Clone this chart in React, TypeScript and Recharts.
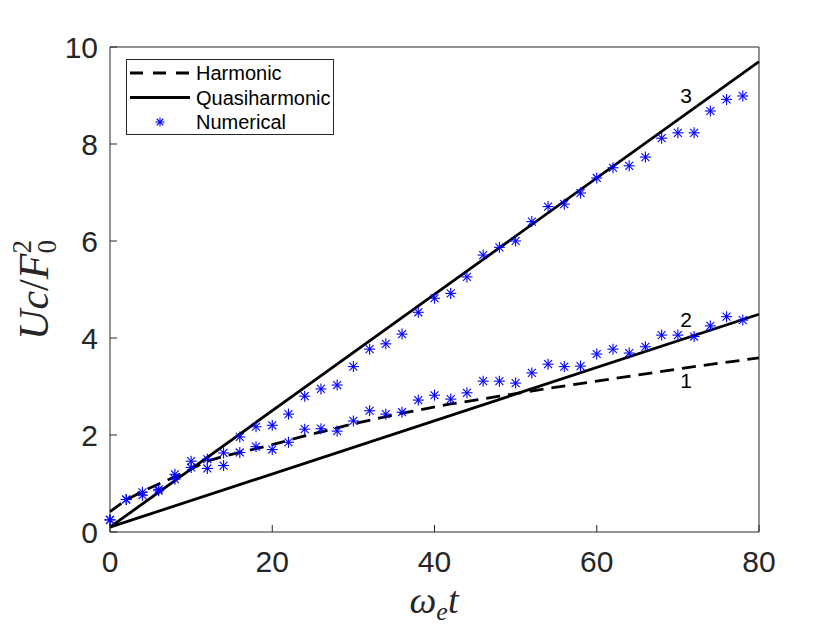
import React from 'react';
import {
  ComposedChart,
  Line,
  Scatter,
  XAxis,
  YAxis,
  Legend,
  ReferenceDot,
} from 'recharts';

// ---------- data ----------
const numX = [0, 2, 4, 6, 8, 10, 12, 14, 16, 18, 20, 22, 24, 26, 28, 30, 32, 34, 36, 38,
  40, 42, 44, 46, 48, 50, 52, 54, 56, 58, 60, 62, 64, 66, 68, 70, 72, 74, 76, 78];
const numUpper = [0.25, 0.67, 0.82, 0.88, 1.19, 1.46, 1.5, 1.63, 1.96, 2.17, 2.2, 2.43, 2.8, 2.95, 3.03, 3.41, 3.77, 3.88, 4.08, 4.53,
  4.82, 4.92, 5.26, 5.71, 5.87, 6.0, 6.4, 6.71, 6.76, 6.99, 7.3, 7.51, 7.55, 7.73, 8.12, 8.23, 8.23, 8.68, 8.92, 8.99];
const numLower = [0.25, 0.67, 0.76, 0.85, 1.09, 1.33, 1.31, 1.37, 1.64, 1.76, 1.7, 1.85, 2.12, 2.13, 2.08, 2.29, 2.5, 2.43, 2.47, 2.72,
  2.82, 2.74, 2.87, 3.11, 3.11, 3.07, 3.28, 3.46, 3.41, 3.42, 3.67, 3.77, 3.69, 3.82, 4.06, 4.06, 4.03, 4.25, 4.44, 4.37];

const harmonicX = [0, 2, 4, 6, 8, 10, 12, 14, 16, 20, 24, 30, 36, 42, 48, 54, 60, 66, 72, 80];
const harmonicY = [0.42, 0.66, 0.84, 0.99, 1.14, 1.3, 1.46, 1.56, 1.64, 1.8, 1.98, 2.23, 2.45, 2.64, 2.8, 2.96, 3.11, 3.26, 3.41, 3.59];

const quasiX = [0, 80];
const quasi3Y = [0.1, 9.7];
const quasi2Y = [0.1, 4.49];

const xTicks = [0, 20, 40, 60, 80];
const yTicks = [0, 2, 4, 6, 8, 10];

const curveLabels = [
  { text: '3', x: 71, y: 8.85 },
  { text: '2', x: 71, y: 4.23 },
  { text: '1', x: 71, y: 2.97 },
];

const legendItems = [
  { name: 'Harmonic', kind: 'dash' },
  { name: 'Quasiharmonic', kind: 'solid' },
  { name: 'Numerical', kind: 'star' },
];

const zip = (xs: number[], ys: number[]) => xs.map((x, i) => ({ x, y: ys[i] }));
const upperData = zip(numX, numUpper);
const lowerData = zip(numX, numLower);
const harmonicData = zip(harmonicX, harmonicY);
const quasi3Data = zip(quasiX, quasi3Y);
const quasi2Data = zip(quasiX, quasi2Y);

// ---------- style ----------
const AXIS = '#262626';
const TICK_FONT = '"Liberation Sans", Arial, sans-serif';
const MATH_FONT = '"Liberation Serif", "Times New Roman", serif';
const BLUE = '#0000ff';
const LW = 2.8;

const Star = ({ cx, cy, size = 5.5 }: { cx: number; cy: number; size?: number }) => {
  const d = size * 0.72;
  return (
    <g stroke={BLUE} strokeWidth={1.1}>
      <line x1={cx - size} y1={cy} x2={cx + size} y2={cy} />
      <line x1={cx} y1={cy - size} x2={cx} y2={cy + size} />
      <line x1={cx - d} y1={cy - d} x2={cx + d} y2={cy + d} />
      <line x1={cx - d} y1={cy + d} x2={cx + d} y2={cy - d} />
    </g>
  );
};

const starShape = (props: any) => <Star cx={props.cx} cy={props.cy} />;

const LeftTick = (props: any) => {
  const { x, y, payload } = props;
  return (
    <g>
      <line x1={x} y1={y} x2={x + 7} y2={y} stroke={AXIS} strokeWidth={1} />
      <text x={x - 12} y={y} dy="0.36em" textAnchor="end" fontFamily={TICK_FONT} fontSize={30} fill={AXIS}>
        {payload.value}
      </text>
    </g>
  );
};

const BottomTick = (props: any) => {
  const { x, y, payload } = props;
  return (
    <g>
      <line x1={x} y1={y} x2={x} y2={y - 7} stroke={AXIS} strokeWidth={1} />
      <text x={x} y={y + 40} textAnchor="middle" fontFamily={TICK_FONT} fontSize={30} fill={AXIS}>
        {payload.value}
      </text>
    </g>
  );
};

const TopTick = (props: any) => {
  const { x, y } = props;
  return <line x1={x} y1={y} x2={x} y2={y + 7} stroke={AXIS} strokeWidth={1} />;
};

const RightTick = (props: any) => {
  const { x, y } = props;
  return <line x1={x} y1={y} x2={x - 7} y2={y} stroke={AXIS} strokeWidth={1} />;
};

const YLabel = () => (
  <text
    transform="translate(48,290) rotate(-90)"
    textAnchor="middle"
    fontFamily={MATH_FONT}
    fontSize={42}
    fill={AXIS}
  >
    <tspan fontStyle="italic">Uc</tspan>
    <tspan>/</tspan>
    <tspan fontStyle="italic">F</tspan>
    <tspan fontSize={27} dy={8}>0</tspan>
    <tspan fontSize={27} dy={-25} dx={-13.5}>2</tspan>
  </text>
);

const XLabel = () => (
  <text x={434} y={613} textAnchor="middle" fontFamily={MATH_FONT} fontSize={38} fill={AXIS}>
    <tspan fontStyle="italic">ω</tspan>
    <tspan fontStyle="italic" fontSize={26} dy={7}>e</tspan>
    <tspan fontStyle="italic" dy={-7}>t</tspan>
  </text>
);

const LegendBox = () => (
  <svg width={208} height={76} style={{ display: 'block' }}>
    <rect x={0.5} y={0.5} width={207} height={75} fill="#fff" stroke={AXIS} strokeWidth={1} />
    {legendItems.map((it, i) => {
      const cy = 14 + i * 24.5;
      return (
        <g key={it.name}>
          {it.kind === 'dash' && (
            <line x1={4} y1={cy} x2={64} y2={cy} stroke="#000" strokeWidth={LW} strokeDasharray="13 10" />
          )}
          {it.kind === 'solid' && <line x1={4} y1={cy} x2={64} y2={cy} stroke="#000" strokeWidth={LW} />}
          {it.kind === 'star' && <Star cx={34} cy={cy} size={4.5} />}
          <text x={70} y={cy} dy="0.36em" fontFamily={TICK_FONT} fontSize={20} fill="#000">
            {it.name}
          </text>
        </g>
      );
    })}
  </svg>
);

const labelShape = (text: string) => (props: any) => (
  <text x={props.cx} y={props.cy} textAnchor="middle" fontFamily={TICK_FONT} fontSize={21} fill="#000">
    {text}
  </text>
);

export default function App() {
  return (
    <div style={{ position: 'absolute', left: 0, top: 0, background: '#fff' }}>
      <ComposedChart width={840} height={630} margin={{ top: 46, right: 80, bottom: 0, left: 0 }}>
        <XAxis
          xAxisId={0}
          type="number"
          dataKey="x"
          domain={[0, 80]}
          ticks={xTicks}
          interval={0}
          height={98}
          tickSize={0}
          tickMargin={0}
          tickLine={false}
          axisLine={{ stroke: AXIS, strokeWidth: 1 }}
          tick={BottomTick}
          label={XLabel}
        />
        <XAxis
          xAxisId="top"
          orientation="top"
          type="number"
          dataKey="x"
          domain={[0, 80]}
          ticks={xTicks}
          interval={0}
          height={1}
          tickSize={0}
          tickMargin={0}
          tickLine={false}
          axisLine={{ stroke: AXIS, strokeWidth: 1 }}
          tick={TopTick}
        />
        <YAxis
          yAxisId={0}
          type="number"
          domain={[0, 10]}
          ticks={yTicks}
          interval={0}
          width={110}
          tickSize={0}
          tickMargin={0}
          tickLine={false}
          axisLine={{ stroke: AXIS, strokeWidth: 1 }}
          tick={LeftTick}
          label={YLabel}
        />
        <YAxis
          yAxisId="right"
          orientation="right"
          type="number"
          domain={[0, 10]}
          ticks={yTicks}
          interval={0}
          width={1}
          tickSize={0}
          tickMargin={0}
          tickLine={false}
          axisLine={{ stroke: AXIS, strokeWidth: 1 }}
          tick={RightTick}
        />
        <Line
          data={harmonicData}
          dataKey="y"
          type="linear"
          stroke="#000"
          strokeWidth={LW}
          strokeDasharray="14 8"
          dot={false}
          isAnimationActive={false}
          name="Harmonic"
        />
        <Line
          data={quasi3Data}
          dataKey="y"
          type="linear"
          stroke="#000"
          strokeWidth={LW}
          dot={false}
          isAnimationActive={false}
          name="Quasiharmonic"
        />
        <Line
          data={quasi2Data}
          dataKey="y"
          type="linear"
          stroke="#000"
          strokeWidth={LW}
          dot={false}
          isAnimationActive={false}
          name="Quasiharmonic 2"
        />
        <Scatter data={upperData} dataKey="y" shape={starShape} isAnimationActive={false} name="Numerical" />
        <Scatter data={lowerData} dataKey="y" shape={starShape} isAnimationActive={false} name="Numerical 2" />
        {curveLabels.map((c) => (
          <ReferenceDot key={c.text} x={c.x} y={c.y} r={0} shape={labelShape(c.text)} />
        ))}
        <Legend
          layout="vertical"
          align="center"
          verticalAlign="middle"
          wrapperStyle={{ position: 'absolute', left: 126, top: 59, width: 208, height: 76 }}
          content={LegendBox}
        />
      </ComposedChart>
    </div>
  );
}
